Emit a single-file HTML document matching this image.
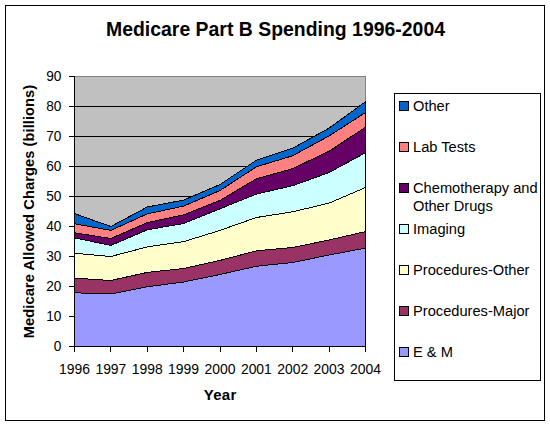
<!DOCTYPE html>
<html><head><meta charset="utf-8"><style>
html,body{margin:0;padding:0;background:#fff;width:550px;height:425px;overflow:hidden}
svg{display:block}
.t{font-family:"Liberation Sans",sans-serif;font-size:14.67px;fill:#000}
.n{font-family:"Liberation Sans",sans-serif;font-size:15.3px;fill:#000}
.title{font-family:"Liberation Sans",sans-serif;font-size:19.4px;font-weight:bold;fill:#000}
.ax{font-family:"Liberation Sans",sans-serif;font-size:15px;font-weight:bold;fill:#000}
</style></head><body>
<svg width="550" height="425" viewBox="0 0 550 425" shape-rendering="crispEdges">
<rect x="0" y="0" width="550" height="425" fill="#fff"/>
<rect x="5.5" y="5.5" width="539" height="415" fill="#fff" stroke="#000" stroke-width="1"/>
<rect x="74.5" y="76.5" width="291" height="270" fill="#C0C0C0" stroke="#808080" stroke-width="1"/>
<line x1="74" y1="316.5" x2="365" y2="316.5" stroke="#000" stroke-width="1"/>
<line x1="74" y1="286.5" x2="365" y2="286.5" stroke="#000" stroke-width="1"/>
<line x1="74" y1="256.5" x2="365" y2="256.5" stroke="#000" stroke-width="1"/>
<line x1="74" y1="226.5" x2="365" y2="226.5" stroke="#000" stroke-width="1"/>
<line x1="74" y1="196.5" x2="365" y2="196.5" stroke="#000" stroke-width="1"/>
<line x1="74" y1="166.5" x2="365" y2="166.5" stroke="#000" stroke-width="1"/>
<line x1="74" y1="136.5" x2="365" y2="136.5" stroke="#000" stroke-width="1"/>
<line x1="74" y1="106.5" x2="365" y2="106.5" stroke="#000" stroke-width="1"/>
<path d="M74.50,292.80 L110.88,294.00 L147.25,286.80 L183.62,282.00 L220.00,274.50 L256.38,266.25 L292.75,262.50 L329.12,255.00 L365.50,248.10 L365.50,346.50 L329.12,346.50 L292.75,346.50 L256.38,346.50 L220.00,346.50 L183.62,346.50 L147.25,346.50 L110.88,346.50 L74.50,346.50 Z" fill="#9999FF" stroke="#000" stroke-width="1" stroke-linejoin="miter"/>
<path d="M74.50,278.10 L110.88,280.50 L147.25,272.40 L183.62,268.50 L220.00,260.40 L256.38,250.80 L292.75,247.50 L329.12,240.00 L365.50,231.60 L365.50,248.10 L329.12,255.00 L292.75,262.50 L256.38,266.25 L220.00,274.50 L183.62,282.00 L147.25,286.80 L110.88,294.00 L74.50,292.80 Z" fill="#993366" stroke="#000" stroke-width="1" stroke-linejoin="miter"/>
<path d="M74.50,253.20 L110.88,256.50 L147.25,246.90 L183.62,241.65 L220.00,230.40 L256.38,217.50 L292.75,211.80 L329.12,203.10 L365.50,187.50 L365.50,231.60 L329.12,240.00 L292.75,247.50 L256.38,250.80 L220.00,260.40 L183.62,268.50 L147.25,272.40 L110.88,280.50 L74.50,278.10 Z" fill="#FFFFCC" stroke="#000" stroke-width="1" stroke-linejoin="miter"/>
<path d="M74.50,237.90 L110.88,245.40 L147.25,229.80 L183.62,223.50 L220.00,208.80 L256.38,194.10 L292.75,185.70 L329.12,172.50 L365.50,152.70 L365.50,187.50 L329.12,203.10 L292.75,211.80 L256.38,217.50 L220.00,230.40 L183.62,241.65 L147.25,246.90 L110.88,256.50 L74.50,253.20 Z" fill="#CCFFFF" stroke="#000" stroke-width="1" stroke-linejoin="miter"/>
<path d="M74.50,232.80 L110.88,238.50 L147.25,222.60 L183.62,214.80 L220.00,200.40 L256.38,178.80 L292.75,168.60 L329.12,151.20 L365.50,127.20 L365.50,152.70 L329.12,172.50 L292.75,185.70 L256.38,194.10 L220.00,208.80 L183.62,223.50 L147.25,229.80 L110.88,245.40 L74.50,237.90 Z" fill="#660066" stroke="#000" stroke-width="1" stroke-linejoin="miter"/>
<path d="M74.50,223.80 L110.88,230.40 L147.25,213.90 L183.62,206.10 L220.00,190.50 L256.38,166.80 L292.75,155.70 L329.12,135.90 L365.50,112.50 L365.50,127.20 L329.12,151.20 L292.75,168.60 L256.38,178.80 L220.00,200.40 L183.62,214.80 L147.25,222.60 L110.88,238.50 L74.50,232.80 Z" fill="#FF8080" stroke="#000" stroke-width="1" stroke-linejoin="miter"/>
<path d="M74.50,213.60 L110.88,226.50 L147.25,207.00 L183.62,200.10 L220.00,184.50 L256.38,160.20 L292.75,148.20 L329.12,128.10 L365.50,101.70 L365.50,112.50 L329.12,135.90 L292.75,155.70 L256.38,166.80 L220.00,190.50 L183.62,206.10 L147.25,213.90 L110.88,230.40 L74.50,223.80 Z" fill="#0066CC" stroke="#000" stroke-width="1" stroke-linejoin="miter"/>
<line x1="74.5" y1="76" x2="74.5" y2="352" stroke="#000" stroke-width="1"/>
<line x1="69" y1="346.5" x2="366" y2="346.5" stroke="#000" stroke-width="1"/>
<line x1="69" y1="346.5" x2="74" y2="346.5" stroke="#000" stroke-width="1"/>
<text x="61.4" y="351.3" text-anchor="end" textLength="7.6" lengthAdjust="spacingAndGlyphs" class="n">0</text>
<line x1="69" y1="316.5" x2="74" y2="316.5" stroke="#000" stroke-width="1"/>
<text x="61.4" y="321.3" text-anchor="end" textLength="15.2" lengthAdjust="spacingAndGlyphs" class="n">10</text>
<line x1="69" y1="286.5" x2="74" y2="286.5" stroke="#000" stroke-width="1"/>
<text x="61.4" y="291.3" text-anchor="end" textLength="15.2" lengthAdjust="spacingAndGlyphs" class="n">20</text>
<line x1="69" y1="256.5" x2="74" y2="256.5" stroke="#000" stroke-width="1"/>
<text x="61.4" y="261.3" text-anchor="end" textLength="15.2" lengthAdjust="spacingAndGlyphs" class="n">30</text>
<line x1="69" y1="226.5" x2="74" y2="226.5" stroke="#000" stroke-width="1"/>
<text x="61.4" y="231.3" text-anchor="end" textLength="15.2" lengthAdjust="spacingAndGlyphs" class="n">40</text>
<line x1="69" y1="196.5" x2="74" y2="196.5" stroke="#000" stroke-width="1"/>
<text x="61.4" y="201.3" text-anchor="end" textLength="15.2" lengthAdjust="spacingAndGlyphs" class="n">50</text>
<line x1="69" y1="166.5" x2="74" y2="166.5" stroke="#000" stroke-width="1"/>
<text x="61.4" y="171.3" text-anchor="end" textLength="15.2" lengthAdjust="spacingAndGlyphs" class="n">60</text>
<line x1="69" y1="136.5" x2="74" y2="136.5" stroke="#000" stroke-width="1"/>
<text x="61.4" y="141.3" text-anchor="end" textLength="15.2" lengthAdjust="spacingAndGlyphs" class="n">70</text>
<line x1="69" y1="106.5" x2="74" y2="106.5" stroke="#000" stroke-width="1"/>
<text x="61.4" y="111.3" text-anchor="end" textLength="15.2" lengthAdjust="spacingAndGlyphs" class="n">80</text>
<line x1="69" y1="76.5" x2="74" y2="76.5" stroke="#000" stroke-width="1"/>
<text x="61.4" y="81.3" text-anchor="end" textLength="15.2" lengthAdjust="spacingAndGlyphs" class="n">90</text>
<line x1="74.5" y1="346" x2="74.5" y2="352" stroke="#000" stroke-width="1"/>
<text x="74.50" y="373.8" text-anchor="middle" textLength="31" lengthAdjust="spacingAndGlyphs" class="n">1996</text>
<line x1="110.5" y1="346" x2="110.5" y2="352" stroke="#000" stroke-width="1"/>
<text x="110.88" y="373.8" text-anchor="middle" textLength="31" lengthAdjust="spacingAndGlyphs" class="n">1997</text>
<line x1="147.5" y1="346" x2="147.5" y2="352" stroke="#000" stroke-width="1"/>
<text x="147.25" y="373.8" text-anchor="middle" textLength="31" lengthAdjust="spacingAndGlyphs" class="n">1998</text>
<line x1="183.5" y1="346" x2="183.5" y2="352" stroke="#000" stroke-width="1"/>
<text x="183.62" y="373.8" text-anchor="middle" textLength="31" lengthAdjust="spacingAndGlyphs" class="n">1999</text>
<line x1="220.5" y1="346" x2="220.5" y2="352" stroke="#000" stroke-width="1"/>
<text x="220.00" y="373.8" text-anchor="middle" textLength="31" lengthAdjust="spacingAndGlyphs" class="n">2000</text>
<line x1="256.5" y1="346" x2="256.5" y2="352" stroke="#000" stroke-width="1"/>
<text x="256.38" y="373.8" text-anchor="middle" textLength="31" lengthAdjust="spacingAndGlyphs" class="n">2001</text>
<line x1="292.5" y1="346" x2="292.5" y2="352" stroke="#000" stroke-width="1"/>
<text x="292.75" y="373.8" text-anchor="middle" textLength="31" lengthAdjust="spacingAndGlyphs" class="n">2002</text>
<line x1="329.5" y1="346" x2="329.5" y2="352" stroke="#000" stroke-width="1"/>
<text x="329.12" y="373.8" text-anchor="middle" textLength="31" lengthAdjust="spacingAndGlyphs" class="n">2003</text>
<line x1="365.5" y1="346" x2="365.5" y2="352" stroke="#000" stroke-width="1"/>
<text x="365.50" y="373.8" text-anchor="middle" textLength="31" lengthAdjust="spacingAndGlyphs" class="n">2004</text>
<text x="275.5" y="35.9" text-anchor="middle" textLength="339" lengthAdjust="spacing" class="title">Medicare Part B Spending 1996-2004</text>
<text x="220" y="400" text-anchor="middle" textLength="32.5" lengthAdjust="spacing" class="ax">Year</text>
<text transform="translate(34,211.5) rotate(-90)" text-anchor="middle" textLength="253.5" lengthAdjust="spacing" class="ax" style="font-size:14.67px">Medicare Allowed Charges (billions)</text>
<rect x="394.5" y="93.5" width="146" height="287" fill="#fff" stroke="#000" stroke-width="1"/>
<rect x="399.5" y="101.5" width="9" height="9" fill="#0066CC" stroke="#000" stroke-width="1"/>
<text x="413" y="110.6" class="t">Other</text>
<rect x="399.5" y="142.5" width="9" height="9" fill="#FF8080" stroke="#000" stroke-width="1"/>
<text x="413" y="151.6" class="t">Lab Tests</text>
<rect x="399.5" y="183.5" width="9" height="9" fill="#660066" stroke="#000" stroke-width="1"/>
<text x="413" y="192.6" class="t">Chemotherapy and</text>
<text x="413" y="210.6" class="t">Other Drugs</text>
<rect x="399.5" y="224.5" width="9" height="9" fill="#CCFFFF" stroke="#000" stroke-width="1"/>
<text x="413" y="233.6" class="t">Imaging</text>
<rect x="399.5" y="265.5" width="9" height="9" fill="#FFFFCC" stroke="#000" stroke-width="1"/>
<text x="413" y="274.6" class="t">Procedures-Other</text>
<rect x="399.5" y="306.5" width="9" height="9" fill="#993366" stroke="#000" stroke-width="1"/>
<text x="413" y="315.6" class="t">Procedures-Major</text>
<rect x="399.5" y="347.5" width="9" height="9" fill="#9999FF" stroke="#000" stroke-width="1"/>
<text x="413" y="356.6" class="t">E &amp; M</text>
</svg>
</body></html>
